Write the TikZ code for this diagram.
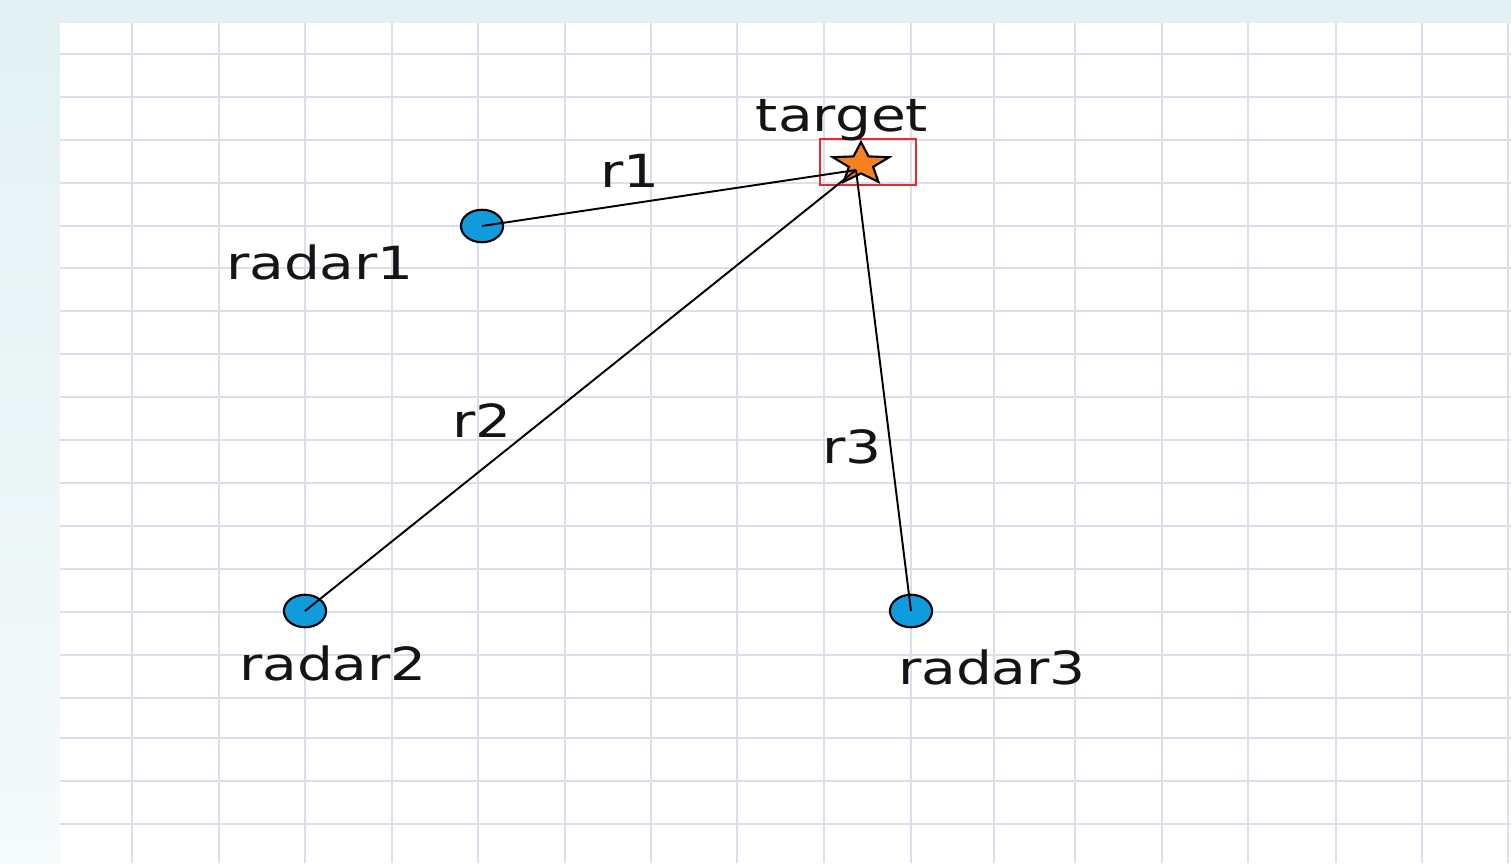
\documentclass[tikz,border=0pt]{standalone}
\usepackage{fontspec}
\setmainfont{DejaVu Sans}
\usetikzlibrary{shapes.geometric}
\definecolor{bgteal}{RGB}{227,241,243}
\definecolor{bglight}{RGB}{245,250,251}
\definecolor{gridc}{RGB}{218,223,236}
\definecolor{radarblue}{RGB}{15,155,220}
\definecolor{staror}{RGB}{245,130,30}
\definecolor{boxred}{RGB}{235,40,45}
\tikzset{
  gridline/.style={draw=gridc, line width=1.6pt},
  radar/.style={ellipse, draw=black, fill=radarblue, line width=1.2pt,
    minimum width=24pt, minimum height=18.5pt, inner sep=0pt},
  link/.style={draw=black, line width=1.1pt},
  lbl/.style={font=\fontsize{26}{30}\selectfont, text=black!92, anchor=base, inner sep=0pt},
  tbox/.style={draw=boxred, line width=1pt, minimum width=54.6pt, minimum height=26.2pt, inner sep=0pt},
  starshape/.style={draw=black, fill=staror, line width=1.2pt, line join=miter}
}
\newcommand{\wide}[1]{\scalebox{1.24}[1]{#1}}
\begin{document}
\begin{tikzpicture}[x=0.02cm, y=-0.02cm]
\useasboundingbox (0,0) rectangle (1511,863);
% background
\fill[bgteal] (0,0) rectangle (1511,23);
\shade[top color=bgteal, bottom color=bglight] (0,23) rectangle (60,863);
\fill[white] (60,23) rectangle (1511,863);
% grid
\foreach \gx in {132,219,305,392,478,565,651,737,824,911,994,1075,1162,1248,1336,1422,1508}
  \draw[gridline] (\gx,23) -- (\gx,863);
\foreach \gy in {54,97,140,183,226,268,311,354,397,440,483,526,569,612,655,698,738,781,824}
  \draw[gridline] (60,\gy) -- (1511,\gy);
% target box
\node[tbox] (target) at (868,162) {};
% star
\begin{scope}[shift={(861,164)}]
\draw[starshape] (0,-22) -- (-7.5,-7.6) -- (-28.2,-6.8) -- (-12.1,2.9)
  -- (-17.4,17.8) -- (0,9.4) -- (17.4,17.8) -- (12.1,2.9) -- (28.2,-6.8) -- (7.5,-7.6) -- cycle;
\end{scope}
\coordinate (tgt) at (856,170);
% radars
\node[radar] (radar1) at (482,226) {};
\node[radar] (radar2) at (305,611) {};
\node[radar] (radar3) at (911,611) {};
% connectors
\draw[link] (radar1.center) -- (tgt);
\draw[link] (radar2.center) -- (tgt);
\draw[link] (radar3.center) -- (tgt);
% labels
\node[lbl] (ltarget) at (842,131) {\wide{target}};
\node[lbl] (lr1) at (630,187) {\wide{r1}};
\node[lbl] (lr2) at (482,437) {\wide{r2}};
\node[lbl] (lr3) at (852,463) {\wide{r3}};
\node[lbl] (lradar1) at (320,279) {\wide{radar1}};
\node[lbl] (lradar2) at (333,680) {\wide{radar2}};
\node[lbl] (lradar3) at (992,684) {\wide{radar3}};
\end{tikzpicture}
\end{document}
